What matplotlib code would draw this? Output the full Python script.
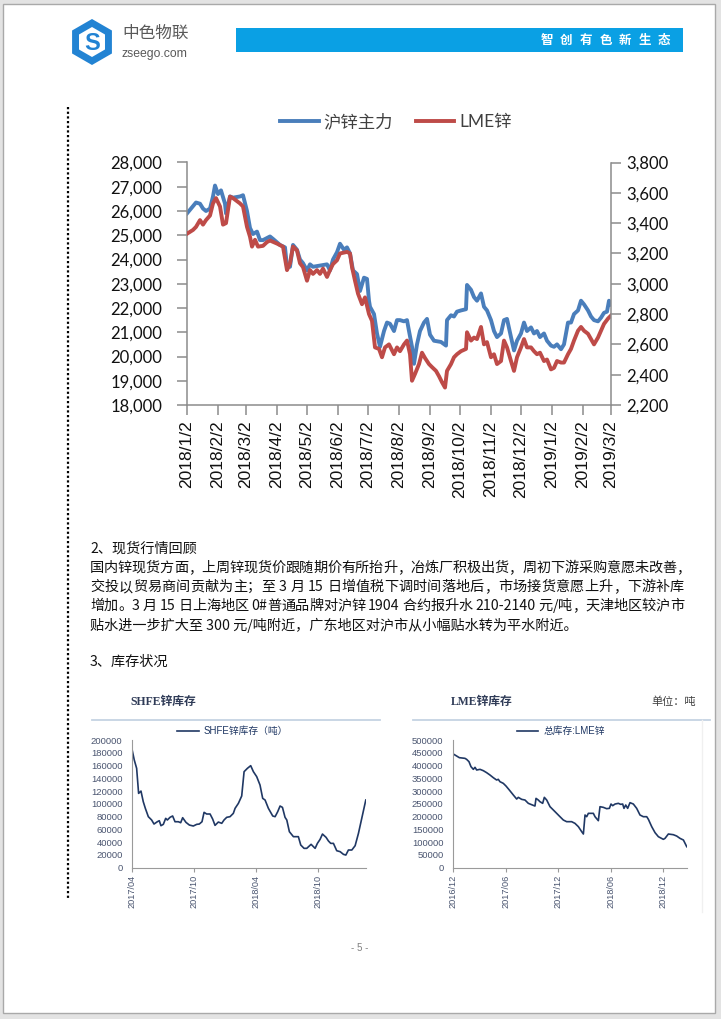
import re
import pandas as pd
import matplotlib
matplotlib.use('Agg')
import matplotlib.pyplot as plt
from matplotlib.patches import Rectangle, RegularPolygon
from matplotlib.ticker import FuncFormatter

plt.rcParams['font.family'] = ['Liberation Sans', 'Noto Sans CJK SC', 'DejaVu Sans']
CJK = ['Noto Sans CJK SC', 'DejaVu Sans']

# ---- 主图: 沪锌主力 vs LME锌 (天数自 2018/1/2 起) ----
shfe_day = [0, 4, 9, 13, 16, 19, 23, 26, 28, 31, 34, 38, 39, 43, 46, 53, 56, 60, 63, 66,
            70, 73, 76, 83, 86, 93, 98, 100, 103, 106, 110, 113, 116, 120, 123, 126, 133, 140, 143, 146,
            150, 153, 157, 160, 163, 166, 170, 173, 177, 180, 182, 183, 187, 190, 193, 197, 200, 203, 207, 210,
            213, 217, 220, 222, 225, 227, 230, 233, 237, 240, 243, 247, 254, 259, 260, 264, 267, 270, 274, 279,
            280, 284, 287, 290, 294, 297, 300, 304, 307, 310, 314, 317, 320, 324, 327, 330, 334, 337, 340, 344,
            347, 350, 353, 357, 360, 364, 367, 370, 374, 377, 381, 384, 387, 391, 394, 397, 401, 404, 407, 411,
            414, 417, 420, 422, 424]
shfe_main = [25900, 26100, 26350, 26300, 26100, 26000, 26100, 26600, 27050, 26700, 26850, 26300, 25900, 26600, 26550, 26600, 26650, 26000, 25300, 25050,
             25150, 24800, 24800, 24950, 24850, 24600, 24500, 23700, 23700, 24600, 24400, 24000, 23850, 23550, 23800, 23700, 23750, 23800, 23550, 24000,
             24300, 24650, 24400, 24500, 24250, 23550, 23400, 22700, 23250, 23200, 22300, 22050, 21750, 20950, 20400, 21050, 21400, 21350, 21050, 21500,
             21500, 21450, 21500, 21050, 20400, 19700, 20500, 21050, 21400, 21550, 20900, 20650, 20600, 20450, 21500, 21700, 21650, 21850, 21900, 21950,
             22950, 22750, 22450, 22300, 22600, 22050, 21900, 21500, 21050, 20800, 20950, 21500, 21550, 20800, 20250, 20650, 20950, 21400, 21050, 21200,
             20950, 21050, 20800, 20950, 20650, 20450, 20400, 20500, 20300, 20500, 21400, 21400, 21750, 21900, 22300, 22150, 21900, 21650, 21500, 21450,
             21600, 21800, 21850, 22300, 22150]

lme_day = [0, 6, 9, 13, 16, 19, 23, 26, 29, 33, 36, 39, 43, 46, 53, 56, 60, 63, 65, 68,
           71, 76, 80, 83, 90, 96, 100, 103, 106, 110, 113, 116, 120, 123, 126, 130, 133, 136, 140, 143,
           146, 150, 153, 160, 163, 165, 168, 171, 175, 178, 182, 185, 188, 192, 195, 198, 202, 207, 210, 213,
           217, 220, 223, 225, 228, 232, 235, 238, 242, 245, 249, 252, 255, 258, 260, 264, 267, 270, 274, 279,
           280, 284, 287, 290, 294, 297, 300, 304, 307, 310, 314, 317, 320, 324, 327, 330, 334, 337, 340, 344,
           347, 350, 353, 357, 360, 364, 367, 370, 374, 377, 381, 384, 387, 391, 394, 397, 401, 404, 407, 411,
           414, 417, 421, 424]
lme_main = [3330, 3355, 3375, 3420, 3390, 3420, 3450, 3530, 3565, 3510, 3390, 3400, 3575, 3565, 3530, 3510, 3375, 3310, 3245, 3290,
            3245, 3250, 3275, 3285, 3265, 3245, 3090, 3135, 3245, 3220, 3135, 3110, 3020, 3090, 3065, 3090, 3065, 3100, 3045, 3090,
            3130, 3155, 3200, 3210, 3200, 3110, 3020, 2935, 2865, 2910, 2800, 2755, 2580, 2570, 2515, 2580, 2600, 2535, 2580, 2555,
            2600, 2625, 2535, 2360, 2405, 2470, 2545, 2510, 2470, 2450, 2425, 2390, 2350, 2315, 2425, 2470, 2515, 2535, 2555, 2570,
            2680, 2625, 2645, 2635, 2715, 2600, 2615, 2515, 2535, 2470, 2490, 2625, 2580, 2490, 2425, 2515, 2580, 2635, 2580, 2580,
            2555, 2535, 2545, 2490, 2500, 2435, 2445, 2490, 2480, 2480, 2535, 2570, 2625, 2690, 2715, 2690, 2670, 2635, 2600, 2645,
            2690, 2735, 2770, 2790]

main_ticks = ['2018/1/2', '2018/2/2', '2018/3/2', '2018/4/2', '2018/5/2', '2018/6/2', '2018/7/2', '2018/8/2',
              '2018/9/2', '2018/10/2', '2018/11/2', '2018/12/2', '2019/1/2', '2019/2/2', '2019/3/2']

# ---- SHFE锌库存 (月数自 2017/04 起) ----
shfe_m = [0, 0.19, 0.42, 0.61, 0.84, 1.06, 1.26, 1.55, 1.87, 2.10, 2.42, 2.61, 2.77, 3.0, 3.23, 3.39, 3.65, 3.90, 4.13, 4.45,
          4.68, 4.87, 5.19, 5.52, 5.90, 6.23, 6.48, 6.74, 6.94, 7.19, 7.52, 7.77, 8.0, 8.32, 8.65, 8.87, 9.13, 9.45, 9.77, 9.94,
          10.26, 10.58, 10.81, 11.13, 11.45, 11.71, 12.03, 12.35, 12.61, 12.84, 13.16, 13.58, 13.81, 14.06, 14.29, 14.52, 14.77, 14.94, 15.19, 15.58,
          16.06, 16.29, 16.61, 16.87, 17.29, 17.68, 17.90, 18.16, 18.39, 18.74, 18.97, 19.19, 19.45, 19.77, 20.10, 20.42, 20.65, 20.90, 21.23, 21.55,
          21.87, 22.19, 22.58]
shfe_stock = [183300, 168700, 155600, 116400, 120000, 103400, 93000, 79900, 74700, 68400, 72000, 73600, 65800, 67900, 77300, 74700, 78900, 81000, 72000, 72000,
              70500, 78300, 71000, 66800, 65300, 67900, 68400, 72000, 86700, 84100, 84100, 76200, 66300, 71500, 69500, 74700, 78900, 79900, 85100, 93000,
              100800, 112300, 150400, 155600, 159800, 150400, 142600, 129500, 108600, 106000, 93000, 81000, 79900, 87700, 96600, 94500, 78900, 74700, 56400, 48600,
              48600, 35500, 30300, 30300, 36600, 30300, 38100, 44400, 52700, 47500, 41800, 38100, 38100, 26600, 25100, 20900, 19800, 27700, 27700, 34500,
              53800, 77300, 106000]
shfe_ticks = ['2017/04', '2017/10', '2018/04', '2018/10']

# ---- LME锌库存 (月数自 2016/12 起) ----
lme_m = [0, 0.38, 0.69, 1.33, 1.52, 1.79, 2.02, 2.29, 2.48, 2.67, 3.05, 3.43, 3.81, 4.19, 4.57, 4.95, 5.14, 5.33, 5.71, 6.02,
         6.4, 6.86, 7.24, 7.43, 7.81, 8.19, 8.57, 8.95, 9.33, 9.45, 9.71, 9.9, 10.21, 10.4, 10.67, 11.05, 11.43, 11.81, 12.11, 12.57,
         12.95, 13.52, 13.9, 14.29, 14.67, 14.86, 15.05, 15.24, 15.43, 16.0, 16.19, 16.57, 16.76, 17.14, 17.52, 17.83, 18.02, 18.21, 18.48, 18.86,
         19.12, 19.35, 19.5, 19.7, 19.92, 20.19, 20.57, 20.95, 21.33, 21.71, 22.1, 22.29, 22.67, 23.05, 23.43, 24.0, 24.19, 24.57, 25.14, 25.52,
         25.9, 26.29, 26.48, 26.67]
lme_stock = [445200, 437300, 430800, 428200, 424300, 415200, 395600, 385100, 393000, 382500, 385100, 379900, 372100, 362900, 352500, 343300, 346000, 336800, 330300, 319800,
             304200, 284600, 268900, 275400, 267600, 265000, 252000, 246700, 241500, 271500, 265000, 258500, 252000, 275400, 265000, 238900, 225900, 212800, 202400, 186700,
             180200, 180200, 173600, 160600, 141000, 131900, 206300, 199700, 212800, 212800, 199700, 184100, 238900, 236300, 231100, 232400, 249300, 242800, 249300, 252000,
             248000, 249300, 232400, 245400, 232400, 254600, 249300, 232400, 206300, 199700, 199700, 189300, 160600, 137100, 121400, 111000, 114900, 131900, 129200, 124000,
             114900, 108400, 95300, 82200]
lme_ticks = ['2016/12', '2017/06', '2017/12', '2018/06', '2018/12']

body = ['国内锌现货方面，上周锌现货价跟随期价有所抬升，冶炼厂积极出货，周初下游采购意愿未改善，',
        '交投以贸易商间贡献为主；至 3 月 15 日增值税下调时间落地后，市场接货意愿上升，下游补库',
        '增加。3 月 15 日上海地区 0#普通品牌对沪锌 1904 合约报升水 210-2140 元/吨，天津地区较沪市',
        '贴水进一步扩大至 300 元/吨附近，广东地区对沪市从小幅贴水转为平水附近。']

W, H = 721, 1019
fig = plt.figure(figsize=(W / 100, H / 100), dpi=100)
fig.patch.set_facecolor('#e3e3e3')

bg = fig.add_axes([0, 0, 1, 1], zorder=0)
bg.set_xlim(0, W)
bg.set_ylim(H, 0)
bg.axis('off')
bg.add_patch(Rectangle((3, 4), 712, 1009, facecolor='white', edgecolor='#a9a9a9', lw=1))


def px_axes(l, t, r, b):
    a = fig.add_axes([l / W, 1 - b / H, (r - l) / W, (b - t) / H], zorder=2)
    a.patch.set_alpha(0)
    return a


# 页眉
bg.add_patch(RegularPolygon((92, 42), 6, radius=23, facecolor='#2283d3', edgecolor='none'))
bg.add_patch(RegularPolygon((92, 42), 6, radius=15, facecolor='white', edgecolor='none'))
bg.text(92, 43, 'S', fontsize=17, fontweight='bold', color='#2283d3', ha='center', va='center')
bg.text(122, 33, '中色物联', fontsize=12, color='#595959', va='center', family=CJK)
bg.text(122, 54, 'zseego.com', fontsize=8.8, color='#595959', va='center')
bg.add_patch(Rectangle((236, 28), 447, 24, facecolor='#0aa0e4', edgecolor='none'))
for i, ch in enumerate('智创有色新生态'):
    bg.text(547 + i * 19.5, 40.5, ch, fontsize=9, fontweight='bold', color='white',
            ha='center', va='center', family=CJK)

# 左侧虚线
bg.plot([68, 68], [107, 900], color='black', lw=1.6, linestyle=(0, (1, 1.1)))

# ---- 主图 ----
base = pd.Timestamp('2018-01-02')
d1 = base + pd.to_timedelta(shfe_day, unit='D')
d2 = base + pd.to_timedelta(lme_day, unit='D')
tick_dates = [pd.Timestamp(s.replace('/', '-')) for s in main_ticks]

ax = px_axes(187, 162.5, 611, 405)
ax2 = ax.twinx()
ax2.patch.set_alpha(0)
l1, = ax.plot(d1, shfe_main, color='#4a7ebb', lw=2.8, solid_joinstyle='round')
l2, = ax2.plot(d2, lme_main, color='#be4b48', lw=2.8, solid_joinstyle='round')

ax.set_xlim(base, tick_dates[-1])
ax.set_ylim(18000, 28000)
ax.set_yticks(range(18000, 28001, 1000))
ax2.set_ylim(2200, 3800)
ax2.set_yticks(range(2200, 3801, 200))
fmt = FuncFormatter(lambda v, p: f'{v:,.0f}')
ax.yaxis.set_major_formatter(fmt)
ax2.yaxis.set_major_formatter(fmt)
ax.set_xticks(tick_dates)
ax.set_xticklabels(main_ticks, rotation=90, fontsize=12.5, color='#111111')

for a in (ax, ax2):
    a.spines['top'].set_visible(False)
    for s in a.spines.values():
        s.set_color('#8c8c8c')
        s.set_linewidth(1.1)
ax.spines['right'].set_visible(False)
ax2.spines['left'].set_visible(False)
ax2.spines['bottom'].set_visible(False)
ax.tick_params(axis='y', length=7, width=1.1, color='#8c8c8c', pad=11, labelsize=12, labelcolor='#111111')
ax.tick_params(axis='x', length=7, width=1.1, color='#8c8c8c', pad=4)
ax2.tick_params(axis='y', length=7, width=1.1, color='#8c8c8c', pad=4, labelsize=12, labelcolor='#111111')
for lab in ax.get_yticklabels() + ax2.get_yticklabels():
    lab.set_family(['Lato', 'DejaVu Sans'])

fig.legend([l1, l2], ['沪锌主力', 'LME锌'], loc='center', ncol=2, frameon=False,
           bbox_to_anchor=(396 / W, 1 - 122 / H), handlelength=2.2, handletextpad=0.3,
           columnspacing=1.3, prop={'family': ['Lato', 'Noto Sans CJK SC'], 'size': 12.5},
           labelcolor='#404040')

# ---- 正文 ----
renderer = fig.canvas.get_renderer()
TXT = 10.2


def put_line(s, x0, y, width=None, size=TXT):
    if width is None:
        bg.text(x0, y, s, fontsize=size, family=CJK, va='center', color='#111111')
        return
    toks = re.findall(r'[0-9A-Za-z#/\-\.]+|.', s)
    items = []
    for tk in toks:
        if tk == ' ':
            items.append((None, size * 100 / 72 * 0.22))
            continue
        t = bg.text(x0, y, tk, fontsize=size, family=CJK, va='center', color='#111111')
        items.append((t, t.get_window_extent(renderer).width))
    gap = (width - sum(w for _, w in items)) / (len(items) - 1)
    x = x0
    for t, w in items:
        if t is not None:
            t.set_x(x)
        x += w + gap


put_line('2、现货行情回顾', 90, 549)
put_line(body[0], 90, 568, 600)
put_line(body[1], 90, 587, 594)
put_line(body[2], 90, 606, 594)
put_line(body[3], 90, 625)
put_line('3、库存状况', 90, 662)

# ---- 库存小图 ----
navy = '#203864'
lab_col = '#4a5570'
bg.text(130, 702, 'SHFE锌库存', fontsize=8.5, fontweight='bold', color='#2f3b57', va='center',
        family=['Liberation Serif', 'Noto Sans CJK SC'])
bg.text(451, 702, 'LME锌库存', fontsize=8.5, fontweight='bold', color='#2f3b57', va='center',
        family=['Liberation Serif', 'Noto Sans CJK SC'])
bg.text(651, 702, '单位：吨', fontsize=8, color='#404040', va='center', family=CJK)
bg.plot([92, 380], [720, 720], color='#c5d3e3', lw=1.3)
bg.plot([413, 710], [720, 720], color='#c5d3e3', lw=1.3)
bg.plot([702, 702], [720, 912], color='#f0f0f0', lw=1)


def small_chart(l, r, xs, ys, xmax, ymax, ystep, ticks, label, cx):
    a = px_axes(l, 740, r, 867.7)
    ln, = a.plot(xs, ys, color=navy, lw=1.2)
    a.set_xlim(0, xmax)
    a.set_ylim(0, ymax)
    a.set_yticks(range(0, ymax + 1, ystep))
    a.set_xticks([6 * i for i in range(len(ticks))])
    a.set_xticklabels(ticks, rotation=90)
    a.spines['top'].set_visible(False)
    a.spines['right'].set_visible(False)
    a.spines['left'].set_color('#9a9a9a')
    a.spines['bottom'].set_color('#9a9a9a')
    a.tick_params(axis='y', length=0, pad=7, labelsize=6.8, labelcolor=lab_col)
    a.tick_params(axis='x', length=3, color='#9a9a9a', pad=2, labelsize=6.6, labelcolor=lab_col)
    a.legend([ln], [label], loc='center', bbox_to_anchor=(cx, 1 + 9 / 127.7), frameon=False,
             handlelength=2.2, handletextpad=0.5, labelcolor=navy,
             prop={'family': ['Liberation Sans', 'Noto Sans CJK SC'], 'size': 7})
    return a


small_chart(132.3, 366, shfe_m, shfe_stock, 22.6, 200000, 20000, shfe_ticks, 'SHFE锌库存（吨）', 0.43)
small_chart(453.3, 687, lme_m, lme_stock, 26.7, 500000, 50000, lme_ticks, '总库存:LME锌', 0.46)

bg.text(360, 948, '- 5 -', fontsize=7, color='#808080', ha='center', va='center')

fig.savefig('out.png', dpi=100)
